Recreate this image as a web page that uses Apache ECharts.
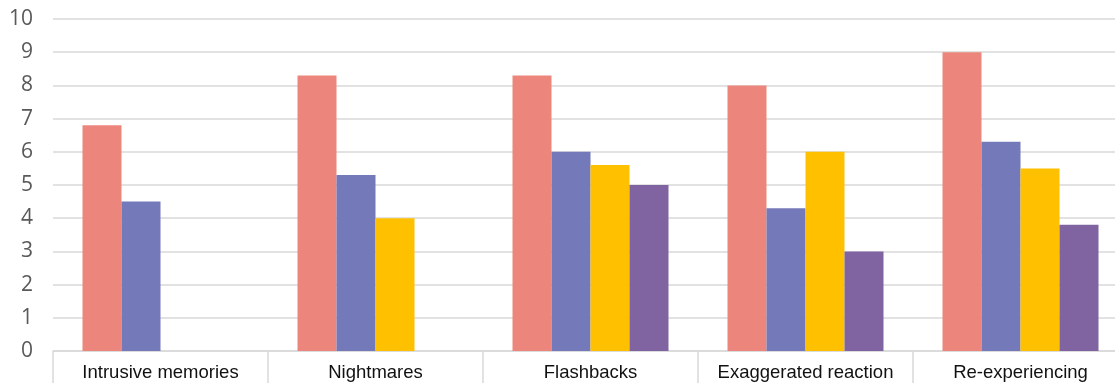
<!DOCTYPE html>
<html>
<head>
<meta charset="utf-8">
<script src="https://cdn.jsdelivr.net/npm/echarts@6/dist/echarts.min.js"></script>
<style>
  html, body { margin: 0; padding: 0; background: #fff; overflow: hidden; width: 1115px; height: 383px; }
  /* chart canvas is slightly wider than the window; the last category runs off the right edge */
  #chart { width: 1128px; height: 383px; }
</style>
</head>
<body>
<div id="chart"></div>
<script>
// Symptom categories along the x axis
const categories = ['Intrusive memories', 'Nightmares', 'Flashbacks', 'Exaggerated reaction', 'Re-experiencing'];

// Scores per group (null = no bar drawn)
const group1 = [6.8, 8.3, 8.3, 8.0, 9.0];
const group2 = [4.5, 5.3, 6.0, 4.3, 6.3];
const group3 = [null, 4.0, 5.6, 6.0, 5.5];
const group4 = [null, null, 5.0, 3.0, 3.8];

const seriesNames = ['Group 1', 'Group 2', 'Group 3', 'Group 4'];
const seriesData = [group1, group2, group3, group4];
const seriesColors = ['#EC857B', '#7479B9', '#FFC000', '#8064A2'];

const gridColor = '#D9D9D9';

const chart = echarts.init(document.getElementById('chart'), null, { renderer: 'canvas' });

chart.setOption({
  animation: false,
  backgroundColor: '#ffffff',
  grid: { left: 53, right: 0, top: 19, bottom: 32, containLabel: false },
  xAxis: {
    type: 'category',
    data: categories,
    boundaryGap: true,
    axisLine: { show: true, lineStyle: { color: gridColor, width: 1.5 } },
    axisTick: { show: true, interval: 0, length: 40, lineStyle: { color: gridColor, width: 1.5 } },
    axisLabel: {
      interval: 0,
      margin: 12,
      color: '#111111',
      fontFamily: 'Liberation Sans, Arial, sans-serif',
      fontSize: 18.5
    },
    splitLine: { show: false }
  },
  yAxis: {
    type: 'value',
    min: 0,
    max: 10,
    interval: 1,
    axisLine: { show: false },
    axisTick: { show: false },
    axisLabel: {
      margin: 20,
      color: '#595959',
      fontFamily: 'Open Sans, Noto Sans, sans-serif',
      fontSize: 21
    },
    splitLine: { show: true, lineStyle: { color: gridColor, width: 1.5 } }
  },
  series: seriesData.map((data, i) => ({
    name: seriesNames[i],
    type: 'bar',
    data: data,
    barWidth: 39,
    barGap: '0%',
    itemStyle: { color: seriesColors[i] }
  }))
});
</script>
</body>
</html>
